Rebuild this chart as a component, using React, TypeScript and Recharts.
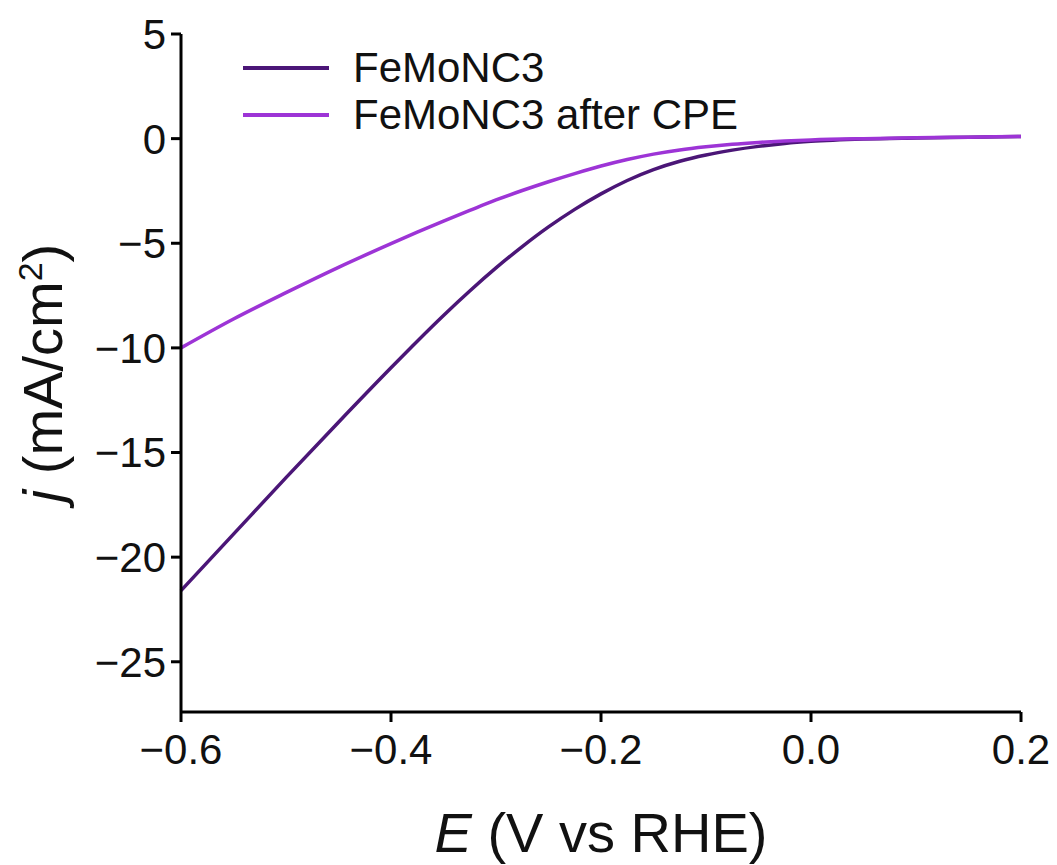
import React from "react";
import { LineChart, Line, XAxis, YAxis } from "recharts";

const potentials = [-0.6, -0.55, -0.5, -0.45, -0.4, -0.375, -0.35, -0.325, -0.3, -0.275, -0.25, -0.225, -0.2, -0.175, -0.15, -0.125, -0.1, -0.075, -0.05, -0.025, 0, 0.05, 0.1, 0.15, 0.2];
const femonc3 = [-21.6, -18.9, -16.2, -13.55, -10.95, -9.68, -8.45, -7.28, -6.18, -5.16, -4.22, -3.38, -2.64, -2.0, -1.48, -1.08, -0.78, -0.55, -0.37, -0.23, -0.13, -0.02, 0.03, 0.07, 0.1];
const femonc3AfterCpe = [-10.0, -8.62, -7.36, -6.15, -5.02, -4.47, -3.94, -3.43, -2.93, -2.48, -2.06, -1.67, -1.31, -1.0, -0.74, -0.54, -0.39, -0.27, -0.18, -0.11, -0.06, 0.0, 0.04, 0.07, 0.1];
const xTicks = [-0.6, -0.4, -0.2, 0, 0.2];
const yTicks = [5, 0, -5, -10, -15, -20, -25];
const seriesNames = ["FeMoNC3", "FeMoNC3 after CPE"];
const seriesColors = ["#4b1677", "#9d34d6"];

const data = potentials.map((e, i) => ({ e, a: femonc3[i], b: femonc3AfterCpe[i] }));

const FONT = "'Liberation Sans', Arial, Helvetica, sans-serif";
const fmt = (v: number, d: number) => {
  const s = Math.abs(v).toFixed(d);
  return v < 0 ? "\u2212" + s : s;
};

const LegendBox = () => (
  <div style={{ position: "absolute", top: 36, left: 235, fontFamily: FONT, fontSize: 42, color: "#111" }}>
    {seriesNames.map((n, i) => (
      <div key={n} style={{ display: "flex", alignItems: "center", height: 47 }}>
        <svg width={86} height={10} style={{ marginRight: 24 }}>
          <line x1={0} y1={5} x2={86} y2={5} stroke={seriesColors[i]} strokeWidth={4} />
        </svg>
        <span style={{ lineHeight: "47px", whiteSpace: "nowrap" }}>{n}</span>
      </div>
    ))}
  </div>
);

const XTitle = (props: any) => {
  const vb = props.viewBox || {};
  return (
    <text x={vb.x + vb.width / 2} y={vb.y + 140} textAnchor="middle" fontFamily={FONT} fontSize={56} fill="#111">
      <tspan fontStyle="italic">E</tspan>
      <tspan> (V vs RHE)</tspan>
    </text>
  );
};

const YTitle = (props: any) => {
  const vb = props.viewBox || {};
  const cx = 54;
  const cy = vb.y + vb.height / 2;
  return (
    <text x={cx} y={cy} textAnchor="middle" fontFamily={FONT} fontSize={56} fill="#111" transform={`rotate(-90, ${cx}, ${cy})`}>
      <tspan fontStyle="italic">j</tspan>
      <tspan> (mA/cm</tspan>
      <tspan fontSize={34} dy={-20}>2</tspan>
      <tspan dy={20}>)</tspan>
    </text>
  );
};

export default function App() {
  return (
    <div style={{ position: "relative", width: 1041, height: 857 }}>
      <LineChart width={1041} height={857} data={data} margin={{ top: 26, right: 28, left: 0, bottom: 0 }}>
        <XAxis
          dataKey="e"
          type="number"
          domain={[-0.6, 0.2]}
          ticks={xTicks}
          tickFormatter={(v: number) => fmt(v, 1)}
          height={153}
          axisLine={{ stroke: "#000", strokeWidth: 3 }}
          tickLine={{ stroke: "#000", strokeWidth: 3 }}
          tickSize={10}
          tickMargin={12}
          tick={{ fontFamily: FONT, fontSize: 42, fill: "#111" }}
          label={<XTitle />}
        />
        <YAxis
          type="number"
          domain={[-27.4, 5]}
          ticks={yTicks}
          tickFormatter={(v: number) => fmt(v, 0)}
          width={173}
          axisLine={{ stroke: "#000", strokeWidth: 3 }}
          tickLine={{ stroke: "#000", strokeWidth: 3 }}
          tickSize={10}
          tickMargin={5}
          tick={{ fontFamily: FONT, fontSize: 42, fill: "#111" }}
          label={<YTitle />}
          allowDataOverflow
        />
        <Line dataKey="a" type="monotone" stroke={seriesColors[0]} strokeWidth={3.5} dot={false} isAnimationActive={false} />
        <Line dataKey="b" type="monotone" stroke={seriesColors[1]} strokeWidth={3.5} dot={false} isAnimationActive={false} />
      </LineChart>
      <LegendBox />
    </div>
  );
}
